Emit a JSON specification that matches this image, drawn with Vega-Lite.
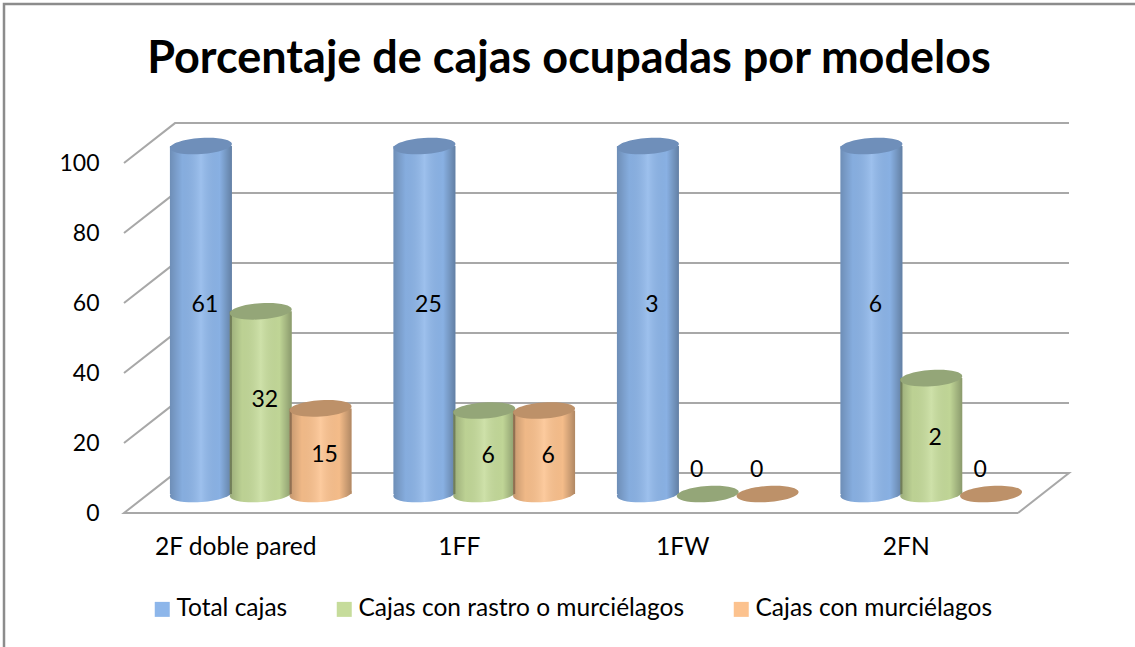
{
"$schema":"https://vega.github.io/schema/vega-lite/v6.json",
"width":1132,"height":644,"autosize":{"type":"none"},
"padding":{"left":3,"top":3,"right":0,"bottom":0},
"background":"#ffffff",
"config":{"font":"Lato","view":{"stroke":null,"fill":"#ffffff"}},
"title":{"text":"Porcentaje de cajas ocupadas por modelos","font":"Lato","fontSize":45,"fontWeight":"bold","color":"#000000","anchor":"middle","offset":-83},
"datasets":{
"marco":[{"orden":1,"px":-120,"nivel":-39},{"orden":2,"px":-120,"nivel":145.4},{"orden":3,"px":1012,"nivel":145.4}],
"paredes":[
{"linea":"n100","orden":1,"px":0,"nivel":100},{"linea":"n100","orden":2,"px":51,"nivel":111.4},{"linea":"n100","orden":3,"px":945,"nivel":111.4},
{"linea":"n80","orden":1,"px":0,"nivel":80},{"linea":"n80","orden":2,"px":51,"nivel":91.4},{"linea":"n80","orden":3,"px":945,"nivel":91.4},
{"linea":"n60","orden":1,"px":0,"nivel":60},{"linea":"n60","orden":2,"px":51,"nivel":71.4},{"linea":"n60","orden":3,"px":945,"nivel":71.4},
{"linea":"n40","orden":1,"px":0,"nivel":40},{"linea":"n40","orden":2,"px":51,"nivel":51.4},{"linea":"n40","orden":3,"px":945,"nivel":51.4},
{"linea":"n20","orden":1,"px":0,"nivel":20},{"linea":"n20","orden":2,"px":51,"nivel":31.4},{"linea":"n20","orden":3,"px":945,"nivel":31.4},
{"linea":"n0","orden":1,"px":894,"nivel":0},{"linea":"n0","orden":2,"px":0,"nivel":0},{"linea":"n0","orden":3,"px":51,"nivel":11.4},{"linea":"n0","orden":4,"px":945,"nivel":11.4},{"linea":"n0","orden":5,"px":894,"nivel":0}
],
"cajas":[
{"modelo":"2F doble pared","serie":"Total cajas","altura":100,"etiqueta":61},
{"modelo":"2F doble pared","serie":"Cajas con rastro o murciélagos","altura":52.5,"etiqueta":32},
{"modelo":"2F doble pared","serie":"Cajas con murciélagos","altura":24.6,"etiqueta":15},
{"modelo":"1FF","serie":"Total cajas","altura":100,"etiqueta":25},
{"modelo":"1FF","serie":"Cajas con rastro o murciélagos","altura":24,"etiqueta":6},
{"modelo":"1FF","serie":"Cajas con murciélagos","altura":24,"etiqueta":6},
{"modelo":"1FW","serie":"Total cajas","altura":100,"etiqueta":3},
{"modelo":"1FW","serie":"Cajas con rastro o murciélagos","altura":0,"etiqueta":0},
{"modelo":"1FW","serie":"Cajas con murciélagos","altura":0,"etiqueta":0},
{"modelo":"2FN","serie":"Total cajas","altura":100,"etiqueta":6},
{"modelo":"2FN","serie":"Cajas con rastro o murciélagos","altura":33.3,"etiqueta":2},
{"modelo":"2FN","serie":"Cajas con murciélagos","altura":0,"etiqueta":0}
]},
"resolve":{"scale":{"x":"independent","y":"independent"}},
"layer":[
{"layer":[
 {"data":{"name":"marco"},
  "mark":{"type":"line","color":"#8c8c8c","strokeWidth":2.5,"clip":false},
  "encoding":{
   "x":{"field":"px","type":"quantitative","scale":{"domain":[0,945],"range":[121,1066],"nice":false,"zero":false},"axis":null},
   "y":{"field":"nivel","type":"quantitative","scale":{"domain":[0,100],"range":[510,160],"nice":false,"clamp":false},
    "axis":{"orient":"left","offset":-122,"values":[0,20,40,60,80,100],"title":null,"domain":false,"ticks":false,"grid":false,"labelFont":"Lato","labelFontSize":23,"labelColor":"#000000","labelPadding":26}},
   "order":{"field":"orden"}
  }},
 {"data":{"name":"paredes"},
  "mark":{"type":"line","color":"#a8a8a8","strokeWidth":2,"clip":false},
  "encoding":{
   "x":{"field":"px","type":"quantitative","scale":{"domain":[0,945],"range":[121,1066],"nice":false,"zero":false},"axis":null},
   "y":{"field":"nivel","type":"quantitative","scale":{"domain":[0,100],"range":[510,160],"nice":false,"clamp":false},
    "axis":{"orient":"left","offset":-122,"values":[0,20,40,60,80,100],"title":null,"domain":false,"ticks":false,"grid":false,"labelFont":"Lato","labelFontSize":23,"labelColor":"#000000","labelPadding":26}},
   "detail":{"field":"linea"},
   "order":{"field":"orden"}
  }}
]},
{"data":{"name":"cajas"},
 "encoding":{
  "x":{"field":"modelo","type":"nominal","sort":["2F doble pared","1FF","1FW","2FN"],
   "scale":{"type":"band","domain":["2F doble pared","1FF","1FW","2FN"],"range":[146,1040],"paddingInner":0.197,"paddingOuter":0.0985},
   "axis":{"orient":"bottom","offset":-134,"title":null,"domain":false,"ticks":false,"grid":false,"labelAngle":0,"labelOffset":-25,"labelFont":"Lato","labelFontSize":24.6,"labelColor":"#000000","labelPadding":22}},
  "xOffset":{"field":"serie","type":"nominal","sort":null,"scale":{"domain":["Total cajas","Cajas con rastro o murciélagos","Cajas con murciélagos"]}}
 },
 "layer":[
  {"transform":[{"filter":"datum.altura > 0"}],
   "mark":{"type":"point","filled":true,"opacity":1,"size":3844,"shape":"M-1,0.07 A1,0.26 -4 1 1 1,-0.07 A1,0.26 -4 1 1 -1,0.07 Z","clip":false},
   "encoding":{
    "y":{"datum":0,"type":"quantitative","scale":{"domain":[0,100],"range":[491,143],"nice":false},"axis":null},
    "color":{"field":"serie","type":"nominal","scale":{"domain":["Total cajas","Cajas con rastro o murciélagos","Cajas con murciélagos"],"range":["#8db6ea","#c6dc9b","#fcc28e"]},
     "legend":{"orient":"none","legendX":147,"legendY":594,"direction":"horizontal","columns":3,"title":null,"symbolType":"square","symbolSize":225,"symbolStrokeWidth":0,"symbolOpacity":1,"labelFont":"Lato","labelFontSize":24.5,"labelColor":"#000000","labelOffset":2,"columnPadding":44,"labelLimit":500}}
   }},
  {"transform":[{"filter":"datum.altura > 0"}],
   "mark":{"type":"point","filled":true,"opacity":1,"size":3844,"shape":"M-1,0.07 A1,0.26 -4 1 1 1,-0.07 A1,0.26 -4 1 1 -1,0.07 Z","clip":false,
    "fill":{"gradient":"linear","x1":0,"x2":1,"y1":0,"y2":0,"stops":[{"offset":0,"color":"rgba(0,0,0,0.22)"},{"offset":0.2,"color":"rgba(0,0,0,0.05)"},{"offset":0.5,"color":"rgba(255,255,255,0.14)"},{"offset":0.8,"color":"rgba(0,0,0,0.03)"},{"offset":1,"color":"rgba(0,0,0,0.3)"}]}},
   "encoding":{"y":{"datum":0,"type":"quantitative","scale":{"domain":[0,100],"range":[491,143],"nice":false},"axis":null}}},
  {"mark":{"type":"bar","width":62,"clip":false},
   "encoding":{
    "y":{"field":"altura","type":"quantitative","scale":{"domain":[0,100],"range":[491,143],"nice":false},"axis":null},
    "color":{"field":"serie","type":"nominal","scale":{"domain":["Total cajas","Cajas con rastro o murciélagos","Cajas con murciélagos"],"range":["#8db6ea","#c6dc9b","#fcc28e"]},
     "legend":{"orient":"none","legendX":147,"legendY":594,"direction":"horizontal","columns":3,"title":null,"symbolType":"square","symbolSize":225,"symbolStrokeWidth":0,"symbolOpacity":1,"labelFont":"Lato","labelFontSize":24.5,"labelColor":"#000000","labelOffset":2,"columnPadding":44,"labelLimit":500}}
   }},
  {"mark":{"type":"bar","width":62,"clip":false,
    "fill":{"gradient":"linear","x1":0,"x2":1,"y1":0,"y2":0,"stops":[{"offset":0,"color":"rgba(0,0,0,0.22)"},{"offset":0.2,"color":"rgba(0,0,0,0.05)"},{"offset":0.5,"color":"rgba(255,255,255,0.14)"},{"offset":0.8,"color":"rgba(0,0,0,0.03)"},{"offset":1,"color":"rgba(0,0,0,0.3)"}]}},
   "encoding":{"y":{"field":"altura","type":"quantitative","scale":{"domain":[0,100],"range":[491,143],"nice":false},"axis":null}}},
  {"mark":{"type":"point","filled":true,"opacity":1,"size":3844,"shape":"M-1,0.07 A1,0.26 -4 1 1 1,-0.07 A1,0.26 -4 1 1 -1,0.07 Z","clip":false},
   "encoding":{
    "y":{"field":"altura","type":"quantitative","scale":{"domain":[0,100],"range":[491,143],"nice":false},"axis":null},
    "fill":{"field":"serie","type":"nominal","legend":null,"scale":{"domain":["Total cajas","Cajas con rastro o murciélagos","Cajas con murciélagos"],"range":["#6f8fba","#94a678","#bd9169"]}}
   }},
  {"transform":[{"filter":"datum.altura > 0"},{"calculate":"datum.altura * 0.574 - 3","as":"pos"}],
   "mark":{"type":"text","font":"Lato","fontSize":23,"color":"#000000","dx":4,"baseline":"middle"},
   "encoding":{
    "y":{"field":"pos","type":"quantitative","scale":{"domain":[0,100],"range":[491,143],"nice":false},"axis":null},
    "text":{"field":"etiqueta","type":"quantitative"}
   }},
  {"transform":[{"filter":"datum.altura == 0"}],
   "mark":{"type":"text","font":"Lato","fontSize":23,"color":"#000000","dx":-11,"dy":-24,"baseline":"middle"},
   "encoding":{
    "y":{"field":"altura","type":"quantitative","scale":{"domain":[0,100],"range":[491,143],"nice":false},"axis":null},
    "text":{"field":"etiqueta","type":"quantitative"}
   }}
 ]}
]
}
